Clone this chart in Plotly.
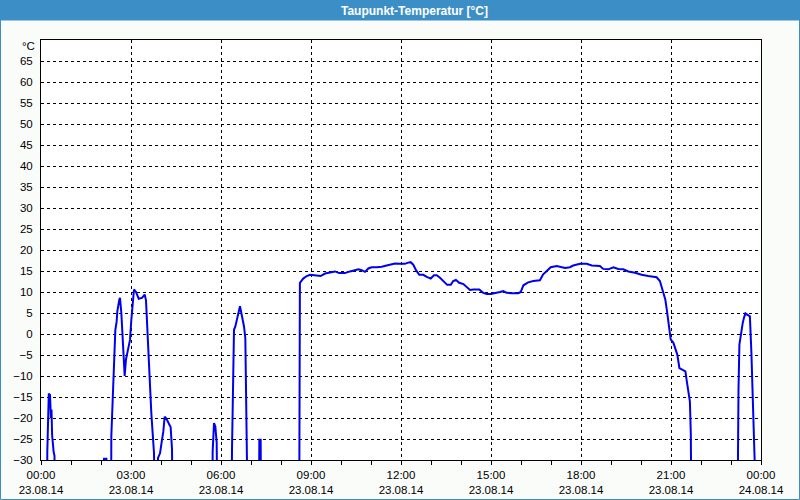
import pandas as pd
import plotly.graph_objects as go

# ---- data: hours after 23.08.14 00:00 and dew point (°C); -60 = off scale (below axis)
hours = [
    0.00, 0.19, 0.21, 0.23, 0.26, 0.30, 0.33, 0.35, 0.37, 0.42, 0.45, 0.48,
    2.08, 2.10, 2.18, 2.20,
    2.33, 2.344, 2.389, 2.433, 2.456, 2.478, 2.522, 2.544, 2.611, 2.633, 2.678, 2.70,
    2.744, 2.767, 2.789, 2.833, 2.878, 2.922, 2.967, 3.011, 3.056, 3.10, 3.167, 3.256,
    3.367, 3.456, 3.50, 3.52, 3.544, 3.589, 3.611, 3.633, 3.678, 3.722, 3.767, 3.811,
    3.88, 3.90, 3.967, 4.033, 4.078, 4.122, 4.167, 4.211, 4.278, 4.322, 4.367, 4.411,
    5.71, 5.722, 5.767, 5.811, 5.856, 5.90,
    6.33, 6.344, 6.367, 6.389, 6.411, 6.433, 6.478, 6.522, 6.567, 6.611, 6.633, 6.678,
    6.722, 6.767, 6.811, 6.833, 6.856, 6.878, 6.90, 6.922,
    7.25, 7.278, 7.322, 7.344,
    8.60, 8.63, 8.74, 8.86, 8.97, 9.08, 9.19, 9.32, 9.47, 9.63, 9.80, 9.94,
    10.13, 10.30, 10.43, 10.58, 10.69, 10.80, 10.91, 11.02, 11.19, 11.36, 11.52, 11.69,
    11.80, 11.97, 12.13, 12.24, 12.32, 12.41, 12.50, 12.61, 12.74, 12.86, 12.99, 13.10,
    13.19, 13.30, 13.43, 13.54, 13.66, 13.74, 13.83, 13.94, 14.08, 14.19, 14.30, 14.41,
    14.61, 14.74, 14.86, 14.99, 15.13, 15.30, 15.41, 15.52, 15.69, 15.91, 15.99, 16.08,
    16.24, 16.41, 16.63, 16.74, 16.86, 16.99, 17.19, 17.36, 17.47, 17.63, 17.74, 17.97,
    18.19, 18.36, 18.63, 18.74, 18.91, 19.08, 19.24, 19.41, 19.58, 19.80, 20.02, 20.24,
    20.52, 20.63, 20.72, 20.81, 20.86, 20.90, 20.94, 20.99, 21.08, 21.14, 21.21, 21.28,
    21.41, 21.48, 21.52, 21.59, 21.63, 21.66, 21.68, 21.70,
    23.20, 23.22, 23.23, 23.25, 23.28, 23.30, 23.34, 23.39, 23.43, 23.48, 23.54, 23.63,
    23.68, 23.72, 23.77, 23.79, 23.81, 24.00,
]
dewpoint = [
    -60, -60, -28, -21, -14.2, -14.5, -20, -18, -24, -28, -29, -60,
    -60, -29.7, -29.7, -60,
    -60, -24.4, -15.7, -10.1, -7.3, 1.0, 3.0, 5.4, 8.2, 8.6, 5.0, 1.0,
    -2.6, -7.0, -10.0, -6.0, -4.5, -3.3, -1.4, 3.4, 7.8, 10.6, 10.0, 8.4,
    8.6, 9.4, 8.0, 5.0, -0.6, -5.3, -10.1, -15.3, -18.9, -23.6, -28.4, -60,
    -60, -29.5, -28.4, -25.2, -23.2, -19.7, -20.0, -20.6, -21.4, -22.2, -27.4, -60,
    -60, -28.0, -21.2, -22.0, -25.8, -60,
    -60, -29.0, -27.4, -18.1, -8.5, 1.0, 1.8, 3.4, 5.0, 6.2, 6.6, 5.0,
    3.4, 1.8, -1.0, -8.5, -12.5, -18.9, -25.2, -60,
    -60, -25.2, -25.2, -60,
    -60, 12.2, 13.2, 13.8, 14.1, 14.0, 13.8, 13.8, 14.4, 14.6, 14.9, 14.5,
    14.5, 14.9, 15.2, 15.4, 15.2, 14.8, 15.6, 15.9, 15.9, 16.0, 16.3, 16.5,
    16.8, 16.7, 16.7, 17.0, 17.1, 16.5, 15.2, 14.1, 14.1, 13.6, 13.2, 14.0,
    14.0, 13.4, 12.4, 11.7, 11.7, 12.6, 12.9, 12.2, 11.9, 11.3, 10.5, 10.6,
    10.6, 9.8, 9.5, 9.5, 9.8, 10.0, 10.2, 9.8, 9.7, 9.7, 10.0, 11.6,
    12.3, 12.6, 12.8, 14.2, 15.0, 15.9, 16.2, 16.0, 15.7, 15.9, 16.3, 16.7,
    16.7, 16.3, 16.2, 15.5, 15.4, 15.9, 15.5, 15.4, 14.9, 14.6, 14.1, 13.8,
    13.5, 12.6, 10.6, 8.2, 5.8, 3.4, 0.3, -1.3, -2.1, -3.3, -4.9, -8.1,
    -8.7, -8.9, -10.9, -14.1, -16.1, -23.6, -30.5, -60,
    -60, -31, -23.6, -13.3, -2.5, -1.3, 1.0, 2.6, 3.8, 4.9, 4.6, 4.2,
    -4.5, -13.3, -21.6, -30.5, -60, -60,
]
y_ticks = list(range(-30, 70, 5))
title_text = "Taupunkt-Temperatur [°C]"
unit_text = "°C"

start = pd.Timestamp("2014-08-23 00:00")
times = [start + pd.Timedelta(hours=h) for h in hours]

FONT = "Liberation Sans"
BLUE = "#3c8fc6"

fig = go.Figure()
fig.add_trace(go.Scatter(
    x=times, y=dewpoint, mode="lines",
    line=dict(color="#0000f0", width=2),
    hoverinfo="skip",
))

W, H = 800, 500
L, R, T, B = 41, 39, 40, 40
pw, ph = W - L - R, H - T - B


def px(x):
    return (x - L) / pw


def py(y):
    return (H - B - y) / ph


# outer frame and title bar
fig.add_shape(type="rect", xref="paper", yref="paper",
              x0=px(0.5), x1=px(799.5), y0=py(499.5), y1=py(0.5),
              line=dict(color=BLUE, width=1), fillcolor="rgba(0,0,0,0)", layer="below")
fig.add_shape(type="rect", xref="paper", yref="paper",
              x0=px(0), x1=px(800), y0=py(20.5), y1=py(0),
              line=dict(width=0), fillcolor=BLUE, layer="below")
fig.add_annotation(xref="paper", yref="paper", x=px(414), y=py(10.5),
                   text="<b>%s</b>" % title_text, showarrow=False,
                   font=dict(family=FONT, size=12, color="white"),
                   xanchor="center", yanchor="middle")
fig.add_annotation(xref="paper", yref="paper", x=px(37), y=py(46),
                   text=unit_text, showarrow=False,
                   font=dict(family=FONT, size=11.5, color="black"),
                   xanchor="right", yanchor="middle")

fig.update_layout(
    width=W, height=H,
    margin=dict(l=L, r=R, t=T, b=B, pad=0),
    paper_bgcolor="#fafcfa",
    plot_bgcolor="white",
    showlegend=False,
    font=dict(family=FONT, size=11.5, color="black"),
)
fig.update_xaxes(
    type="date",
    automargin=False,
    range=[start, start + pd.Timedelta(hours=24)],
    dtick=3 * 3600000,
    tick0=start,
    tickformat="%H:%M<br>%d.%m.%y",
    showgrid=True, gridcolor="black", gridwidth=1, griddash="3px,3px",
    showline=True, linecolor="black", linewidth=1, mirror=True,
    ticks="outside", ticklen=4, tickcolor="black",
    minor=dict(dtick=3600000, ticks="outside", ticklen=4, tickcolor="black", showgrid=False),
    zeroline=False,
)
fig.update_yaxes(
    automargin=False,
    range=[-30, 70],
    tickvals=y_ticks,
    showgrid=True, gridcolor="black", gridwidth=1, griddash="3px,3px",
    showline=True, linecolor="black", linewidth=1, mirror=True,
    ticks="", ticklabelstandoff=5,
    zeroline=False,
)

fig.write_html("out.html")
